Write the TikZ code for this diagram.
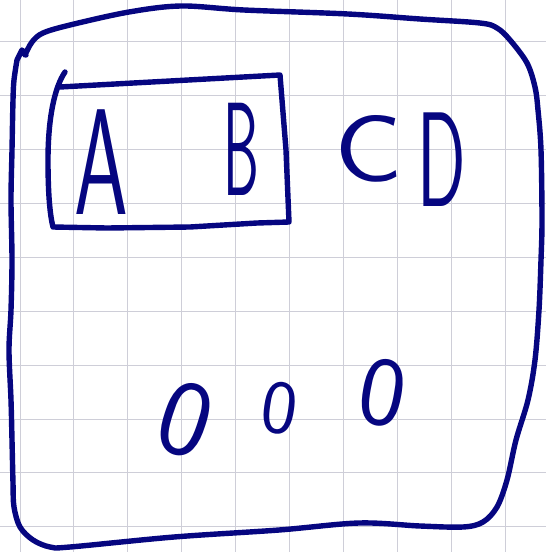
\documentclass[tikz,border=0pt]{standalone}
\usepackage{fontspec}
\definecolor{ink}{RGB}{6,6,128}
\definecolor{gridline}{RGB}{206,206,216}
\newcommand{\handsize}[1]{\sffamily\fontsize{#1}{#1}\selectfont}

\begin{document}
\begin{tikzpicture}[x=1pt,y=-1pt,
  pen/.style={draw=ink,line width=5.4pt,line cap=round,line join=round},
  letter/.style={text=ink,inner sep=0pt,transform shape}]
\useasboundingbox (0,0) rectangle (546,552);
\fill[white] (0,0) rectangle (546,552);
% grid paper
\foreach \k in {0,...,9}{
  \draw[gridline,line width=1pt] ({20+53.9*\k},0) -- ({20+53.9*\k},552);
  \draw[gridline,line width=1pt] (0,{41.7+53.9*\k}) -- (546,{41.7+53.9*\k});
}
% outer blob
\draw[pen] plot[smooth,tension=0.55] coordinates {(25,55) (32,42) (43,33) (70,25) (129,12) (181,6)
  (244,10) (348,14) (420,19) (480,23) (497,28) (510,40) (527,63) (535,87) (538,110) (541,150)
  (542,220) (541,260) (539,310) (535,360) (528,400) (516,440) (507,480) (497,507) (483,522)
  (463,527) (420,526) (359,523) (279,530) (174,537) (70,547) (50,547) (33,540) (20,527)
  (14,507) (13,483) (12,440) (11,400) (9,350) (11,310) (12,260) (11,200) (12,150) (13,100)
  (14,80) (17,60)} -- (22,50) -- (26,55);
% inner box round A and B
\draw[pen] (65,72) .. controls (54,88) and (48,120) .. (48,160)
  .. controls (48,195) and (50,215) .. (53,227) -- (107,228) -- (190,227) -- (257,223)
  -- (289,222) -- (286,150) -- (280,75) -- (60,87);
% letters
\node[letter,xscale=0.57,font=\handsize{151}] (a) at (101,162) {A};
\node[letter,xscale=0.43,font=\handsize{133}] (b) at (241,149) {B};
\node[letter,xscale=1.2,font=\handsize{95}] (c) at (369,149) {C};
\node[letter,xscale=0.53,font=\handsize{135}] (d) at (442,160) {D};
% zeros
\node[letter,rotate=-18,font=\handsize{108}] (z1) at (186,420) {0};
\node[letter,rotate=-8,font=\handsize{76}] (z2) at (280,408) {0};
\node[letter,rotate=-10,font=\handsize{98}] (z3) at (383,393) {0};
\end{tikzpicture}
\end{document}
